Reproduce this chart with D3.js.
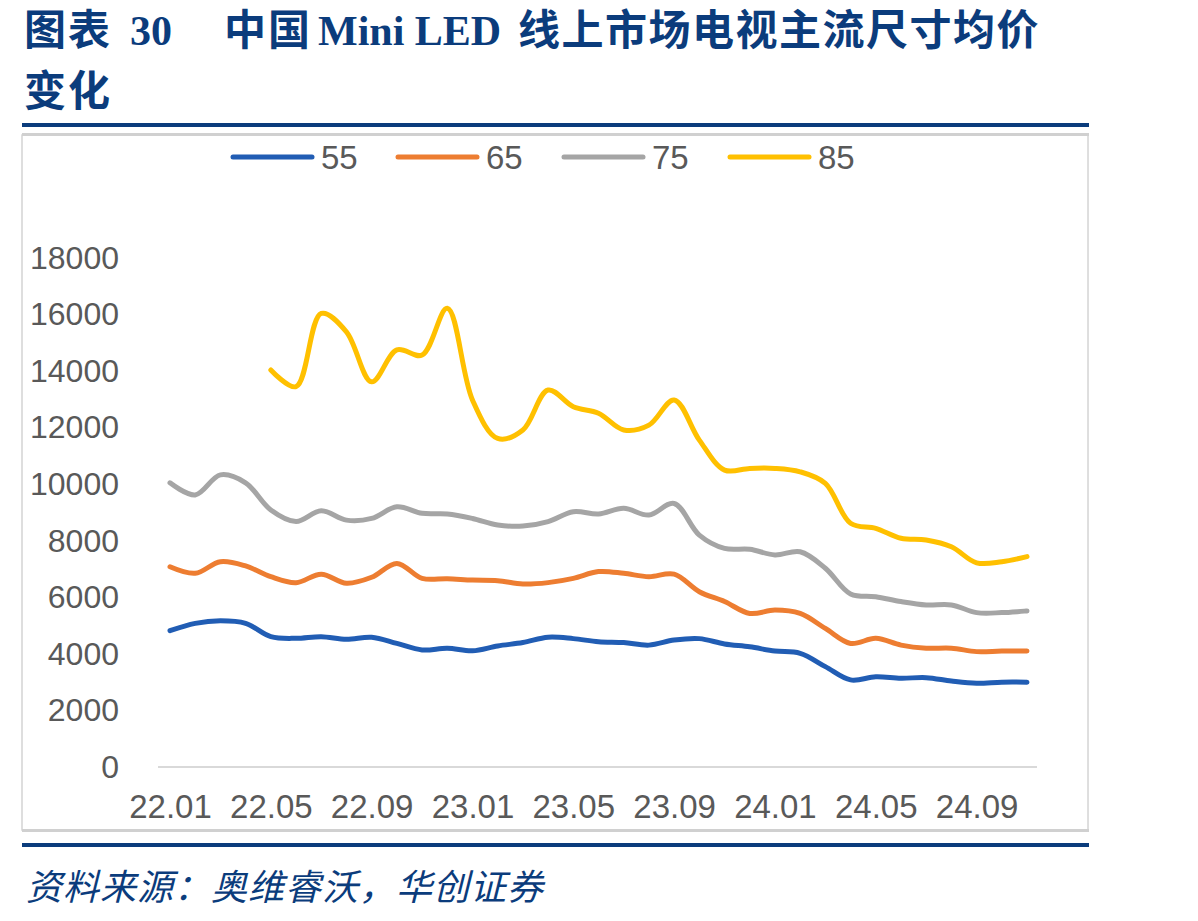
<!DOCTYPE html>
<html>
<head>
<meta charset="utf-8">
<script src="https://cdn.jsdelivr.net/npm/d3@7"></script>
<style>
  body { margin: 0; background: #fff; }
  svg { display: block; }
</style>
</head>
<body>
<div id="chart"></div>
<script>
// 月份 22.01 - 24.11
const months = ['22.01','22.02','22.03','22.04','22.05','22.06','22.07','22.08','22.09','22.10','22.11','22.12',
                '23.01','23.02','23.03','23.04','23.05','23.06','23.07','23.08','23.09','23.10','23.11','23.12',
                '24.01','24.02','24.03','24.04','24.05','24.06','24.07','24.08','24.09','24.10','24.11'];
const tickLabels = ['22.01','22.05','22.09','23.01','23.05','23.09','24.01','24.05','24.09'];
const yTicks = [0,2000,4000,6000,8000,10000,12000,14000,16000,18000];

const s55 = [4820,5080,5170,5080,4610,4550,4610,4515,4590,4370,4140,4200,4110,4280,4400,4590,4540,4430,
             4400,4310,4490,4540,4350,4250,4100,4020,3550,3080,3190,3140,3160,3040,2960,3000,3000];
const s65 = [7080,6850,7260,7110,6730,6520,6820,6500,6710,7200,6670,6660,6610,6590,6470,6520,6670,6910,
             6850,6730,6820,6200,5850,5430,5550,5430,4900,4370,4550,4310,4200,4200,4080,4100,4100];
const s75 = [10050,9620,10330,10050,9090,8680,9060,8730,8790,9200,8970,8950,8790,8560,8520,8680,9030,8950,
             9150,8910,9320,8200,7730,7700,7500,7610,7030,6120,6020,5850,5730,5730,5460,5460,5520];
const s85 = [null,null,null,null,14040,13450,16040,15390,13620,14750,14570,16220,12980,11620,11920,13330,12740,12510,
             11920,12090,12980,11560,10500,10560,10560,10440,10030,8620,8440,8090,8030,7790,7220,7260,7440];

const seriesNames = ['55','65','75','85'];
const seriesData = [s55, s65, s75, s85];
const colors = ['#215db4','#ed7d31','#a5a5a5','#ffc000'];

const W = 1198, H = 921;
const svg = d3.select('#chart').append('svg').attr('width', W).attr('height', H);

const navy = '#0b3c7c';
const titleFont = '"Liberation Serif","Noto Sans CJK SC",serif';

// 标题
const t1 = svg.append('text')
    .attr('y', 45)
    .attr('fill', navy).style('font-family', titleFont)
    .style('font-size', '42px').style('font-weight', 'bold');
t1.append('tspan').attr('x', 24).style('letter-spacing', '2px').text('图表');
t1.append('tspan').attr('x', 130).text('30');
t1.append('tspan').attr('x', 224).style('letter-spacing', '2px').text('中国');
t1.append('tspan').attr('x', 318).text('Mini LED');
t1.append('tspan').attr('x', 518).style('letter-spacing', '1.5px').text('线上市场电视主流尺寸均价');
svg.append('text')
    .attr('x', 24).attr('y', 106)
    .attr('fill', navy).style('font-family', titleFont)
    .style('font-size', '42px').style('font-weight', 'bold')
    .style('letter-spacing', '2px')
    .text('变化');

// 分隔线
svg.append('rect').attr('x', 22).attr('y', 123).attr('width', 1067).attr('height', 4).attr('fill', navy);
svg.append('rect').attr('x', 22).attr('y', 843).attr('width', 1067).attr('height', 4).attr('fill', navy);

// 图框
svg.append('rect').attr('x', 22).attr('y', 135).attr('width', 1066).attr('height', 695)
    .attr('fill', 'none').attr('stroke', '#d4d4d4').attr('stroke-width', 1.5);
svg.append('rect').attr('x', 22).attr('y', 133).attr('width', 1067).attr('height', 3).attr('fill', '#d0d0d0');
svg.append('rect').attr('x', 22).attr('y', 829).attr('width', 1067).attr('height', 3).attr('fill', '#d0d0d0');

// 来源
svg.append('text')
    .attr('x', 26).attr('y', 900)
    .attr('fill', navy).style('font-family', '"Noto Sans CJK SC",sans-serif')
    .style('font-size', '36px').style('font-style', 'italic')
    .style('letter-spacing', '1px')
    .text('资料来源：奥维睿沃，华创证券');

// 比例尺
const x = d3.scalePoint().domain(months).range([170, 1027]);
const y = d3.scaleLinear().domain([0, 18000]).range([767, 258]);

const axisFont = '"Liberation Sans",Arial,sans-serif';
const textColor = '#595959';

// Y 轴
const yAxis = svg.append('g').attr('transform', 'translate(119,0)')
    .call(d3.axisLeft(y).tickValues(yTicks).tickSize(0).tickPadding(0).tickFormat(d3.format('d')));
yAxis.select('.domain').remove();
yAxis.selectAll('text').style('font-family', axisFont).style('font-size', '32px').attr('fill', textColor);

// X 轴
const xAxis = svg.append('g').attr('transform', 'translate(0,767)')
    .call(d3.axisBottom(x).tickValues(tickLabels).tickSize(0).tickPadding(28));
xAxis.select('.domain').remove();
xAxis.selectAll('text').style('font-family', axisFont).style('font-size', '33px').attr('fill', textColor);
svg.append('line').attr('x1', 158).attr('x2', 1037).attr('y1', 767).attr('y2', 767)
    .attr('stroke', '#d9d9d9').attr('stroke-width', 2);

// 折线
const line = d3.line()
    .defined(d => d != null)
    .x((d, i) => x(months[i]))
    .y(d => y(d))
    .curve(d3.curveCatmullRom.alpha(0.5));

seriesData.forEach((s, k) => {
    svg.append('path')
        .attr('d', line(s))
        .attr('fill', 'none')
        .attr('stroke', colors[k])
        .attr('stroke-width', 5)
        .attr('stroke-linecap', 'round')
        .attr('stroke-linejoin', 'round');
});

// 图例
const legendX = [233, 398, 564, 730];
seriesNames.forEach((name, k) => {
    const g = svg.append('g').attr('transform', `translate(${legendX[k]},157)`);
    g.append('line').attr('x1', 0).attr('x2', 79).attr('y1', 0).attr('y2', 0)
        .attr('stroke', colors[k]).attr('stroke-width', 5).attr('stroke-linecap', 'round');
    g.append('text').attr('x', 88).attr('y', 12)
        .style('font-family', axisFont).style('font-size', '33px').attr('fill', textColor)
        .text(name);
});
</script>
</body>
</html>
